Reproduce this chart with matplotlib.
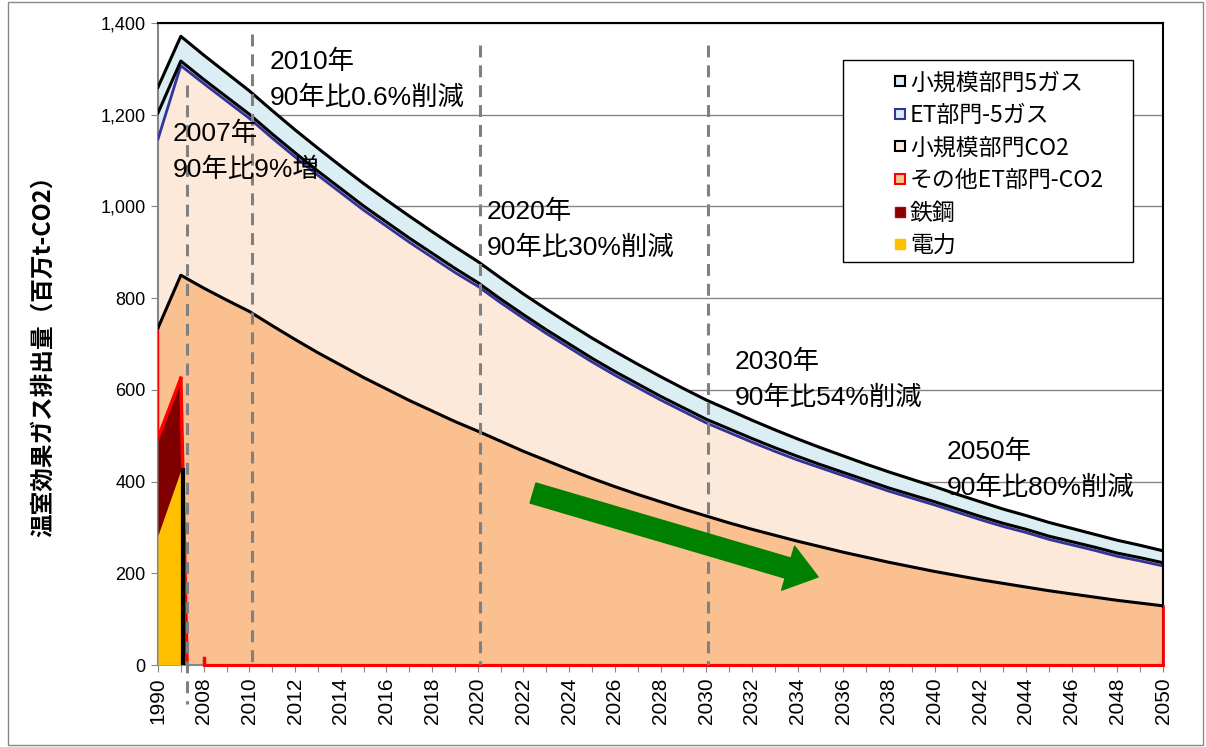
import numpy as np
import matplotlib
matplotlib.use("Agg")
import matplotlib.pyplot as plt
from matplotlib.lines import Line2D
from matplotlib.patches import Rectangle
from matplotlib.ticker import FuncFormatter

plt.rcParams['font.family'] = ['Liberation Sans', 'Noto Sans CJK JP']

# categories: 1990, 2007, then every year 2008-2050
years = [1990, 2007] + list(range(2008, 2051))

# 電力 / 鉄鋼 only exist for 1990 and 2007
elec = [283, 425]
steel = [212, 200]

# その他ET部門-CO2 (1990, 2007, 2008..2050)
et_co2 = [240, 225,
          822, 796, 771, 740, 710, 681, 654, 627, 602, 577,
          554, 531, 510, 488, 466, 446, 426, 407, 389, 372,
          356, 340, 325, 310, 296, 283, 270, 258, 246, 235,
          224, 214, 204, 195, 186, 178, 170, 162, 155, 148,
          141, 135, 129]

# 小規模部門CO2
sm_co2 = [412, 457,
          446, 434, 421, 409, 398, 387, 376, 365, 355, 345,
          335, 325, 316, 302, 290, 277, 266, 254, 243, 233,
          222, 213, 203, 197, 190, 183, 177, 172, 167, 161,
          155, 150, 145, 138, 131, 124, 119, 112, 107, 102,
          96, 92, 87]

# ET部門-5ガス
et_gas = [57, 10,
          9, 9, 9, 9, 9, 9, 9, 9, 9, 9,
          9, 9, 8, 8, 8, 8, 8, 8, 8, 8,
          8, 8, 8, 8, 8, 8, 8, 7, 7, 7,
          7, 7, 7, 7, 7, 7, 7, 7, 7, 7,
          7, 7, 7]

# 小規模部門5ガス
sm_gas = [56, 54,
          53, 52, 51, 51, 50, 50, 49, 49, 48, 48,
          47, 47, 46, 46, 45, 45, 44, 44, 44, 43,
          43, 42, 42, 41, 40, 39, 38, 37, 36, 35,
          35, 34, 33, 32, 32, 31, 30, 30, 29, 28,
          28, 27, 26]

notes = [("2007年\n90年比9%増", 2007, 1185),
         ("2010年\n90年比0.6%削減", 2010, 1342),
         ("2020年\n90年比30%削減", 2020, 1015),
         ("2030年\n90年比54%削減", 2030, 688),
         ("2050年\n90年比80%削減", 2050, 492)]

n = len(years)
x = np.arange(n)
el = np.full(n, np.nan)
el[:2] = elec
st = np.full(n, np.nan)
st[:2] = steel

b1 = np.nan_to_num(el)
b2 = b1 + np.nan_to_num(st)
b3 = b2 + np.array(et_co2)
b4 = b3 + np.array(sm_co2)
b5 = b4 + np.array(et_gas)
b6 = b5 + np.array(sm_gas)

c_elec = '#FFC000'
c_steel = '#800000'
c_etco2 = '#FAC090'
c_smco2 = '#FDE9D9'
c_gas = '#DAEEF3'
c_blue = '#333399'

fig = plt.figure(figsize=(12.06, 7.47), dpi=100)
ax = fig.add_axes([158/1206, 1-665/747, (1163-158)/1206, (665-23)/747])

ax.set_axisbelow(True)
ax.yaxis.grid(True, color='#868686', lw=1)

# areas
ax.fill_between(x, 0, b3, color=c_etco2, lw=0, zorder=2)
ax.fill_between(x, b3, b4, color=c_smco2, lw=0, zorder=2)
ax.fill_between(x, b4, b6, color=c_gas, lw=0, zorder=2)
ax.fill_between(x[:2], 0, b1[:2], color=c_elec, lw=0, zorder=3)
ax.fill_between(x[:2], b1[:2], b2[:2], color=c_steel, lw=0, zorder=3)

# borders
drop_x = 1.27  # where the 2007 marker line sits
ax.plot(x[:2], b2[:2], color='red', lw=2.5, zorder=4)
ax.plot([x[1], drop_x], [b2[1], 0], color='red', lw=2.5, zorder=4)
ax.plot(x[2:], b2[2:], color='red', lw=2.2, zorder=4, clip_on=False)
ax.plot([x[2], x[2]], [0, 15], color='red', lw=2.5, zorder=4)
ax.plot([x[0], x[0]], [b2[0], b3[0]], color='red', lw=1, zorder=4)
ax.plot([x[-1], x[-1]], [0, b3[-1]], color='red', lw=2, zorder=4, clip_on=False)
ax.plot([x[1] + 0.1, x[1] + 0.1], [0, b1[1]], color='black', lw=3, zorder=4)
ax.plot(x, b3, color='black', lw=2.2, zorder=4)
ax.plot(x, b4, color=c_blue, lw=2, zorder=4)
ax.plot(x, b5, color='black', lw=2.2, zorder=4)
ax.plot(x, b6, color='black', lw=2.2, zorder=4)
ax.plot([x[-1], x[-1]], [b3[-1], b6[-1]], color='black', lw=2.2, zorder=4)

# dashed marker lines
dash = (0, (3.9, 2.6))
ax.plot([drop_x, drop_x], [1265, -85], color='#808080', lw=2.2, ls=dash, zorder=5, clip_on=False)
for yr, top in [(2010, 1375), (2020, 1352), (2030, 1352)]:
    xi = years.index(yr) + 0.1
    ax.plot([xi, xi], [top, 0], color='#808080', lw=2.2, ls=dash, zorder=5)

# texts
note_x = {2007: 0.66, 2010: 4.9, 2020: 14.4, 2030: 25.26, 2050: 34.54}
for label, yr, yv in notes:
    ax.text(note_x[yr], yv, label, fontsize=19, va='top', ha='left',
            linespacing=1.6, zorder=6)

# green arrow
ax.annotate('', xy=(28.9, 192), xytext=(16.42, 375),
            arrowprops=dict(arrowstyle='simple,head_width=2.2,head_length=1.5,tail_width=1.0',
                            mutation_scale=15, color='#008000', shrinkA=0, shrinkB=0),
            zorder=6)

ax.set_xlim(0, n - 1)
ax.set_ylim(0, 1400)
ax.set_yticks(np.arange(0, 1401, 200))
ax.yaxis.set_major_formatter(FuncFormatter(lambda v, p: '{:,.0f}'.format(v)))
ax.set_xticks(x)
ax.set_xticklabels([str(y) if i % 2 == 0 else '' for i, y in enumerate(years)],
                   rotation=90, fontsize=15)
ax.tick_params(axis='x', length=5, color='#868686', pad=4)
ax.tick_params(axis='y', length=5, color='#868686', labelsize=13, pad=4)

for s in ['left', 'bottom']:
    ax.spines[s].set_color('#868686')
    ax.spines[s].set_linewidth(1.5)
for s in ['top', 'right']:
    ax.spines[s].set_color('black')
    ax.spines[s].set_linewidth(1.5)

ax.set_ylabel('温室効果ガス排出量（百万t-CO2）', fontsize=17, fontweight='bold',
              family=['Noto Sans CJK JP'])
ax.yaxis.set_label_coords(-0.1025, 0.49)

# legend
ax.add_patch(Rectangle((0.6816, 0.6277), 0.2885, 0.3147, transform=ax.transAxes,
                       fc='white', ec='black', lw=1, zorder=7))
handles = [
    Line2D([], [], marker='s', ms=7, mfc=c_gas, mec='black', mew=1.5, ls='none'),
    Line2D([], [], marker='s', ms=7, mfc=c_gas, mec=c_blue, mew=1.5, ls='none'),
    Line2D([], [], marker='s', ms=7, mfc=c_smco2, mec='black', mew=1.5, ls='none'),
    Line2D([], [], marker='s', ms=7, mfc=c_etco2, mec='red', mew=1.5, ls='none'),
    Line2D([], [], marker='s', ms=7, mfc=c_steel, mec='#C00000', mew=1, ls='none'),
    Line2D([], [], marker='s', ms=7, mfc=c_elec, mec=c_elec, mew=1, ls='none'),
]
labels = ['小規模部門5ガス', 'ET部門-5ガス', '小規模部門CO2', 'その他ET部門-CO2', '鉄鋼', '電力']
leg = ax.legend(handles, labels, loc='upper left', bbox_to_anchor=(0.7323, 0.925),
                frameon=False, borderpad=0, borderaxespad=0, handlelength=0.5,
                handletextpad=0.2, labelspacing=0.42,
                prop={'family': ['Noto Sans CJK JP'], 'size': 16.5})
leg.set_zorder(8)

fig.add_artist(Rectangle((8/1206, 2/747), (1203-8)/1206, (745-2)/747,
                         transform=fig.transFigure, fill=False, ec='#888888', lw=1))

fig.savefig('out.png', dpi=100)
